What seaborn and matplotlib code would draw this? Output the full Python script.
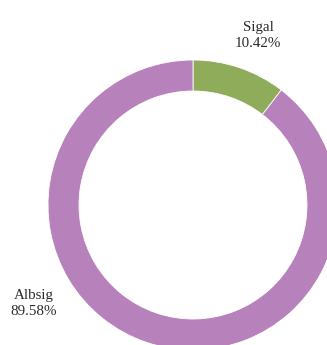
import matplotlib
matplotlib.use('Agg')
import matplotlib.pyplot as plt
import seaborn as sns

labels = ['Sigal', 'Albsig']
shares = [10.42, 89.58]
colors = ['#8fac5a', '#b781bb']

sns.set_theme(style='white')
plt.rcParams['font.family'] = ['Liberation Serif', 'DejaVu Serif']

fig = plt.figure(figsize=(3.27, 3.45), dpi=100)
ax = fig.add_axes([0, 0, 1, 1])

ax.pie(shares, colors=colors, startangle=90, counterclock=False,
       radius=145, center=(193, 140), frame=True,
       wedgeprops=dict(width=31, edgecolor='white', linewidth=0.6))
ax.set_xlim(0, 327)
ax.set_ylim(0, 345)
ax.set_aspect('equal')
ax.axis('off')

# label positions for each slice
pos = [(258, 309.5), (33.5, 41.5)]
for lab, v, (x, y) in zip(labels, shares, pos):
    ax.text(x, y, f'{lab}\n{v:.2f}%', ha='center', va='center',
            fontsize=10.8, color='#2b2b2b', linespacing=1.3)

fig.savefig('out.png', dpi=100)
